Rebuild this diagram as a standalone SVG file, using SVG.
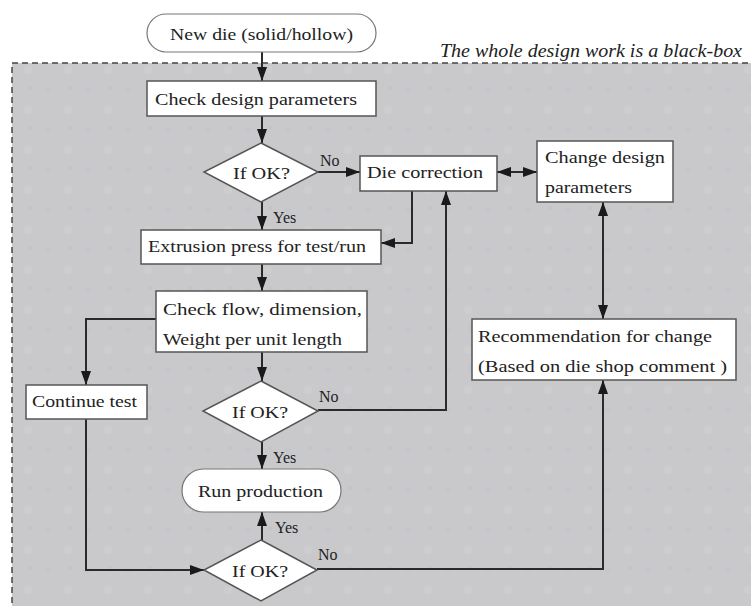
<svg xmlns="http://www.w3.org/2000/svg" width="751" height="606" viewBox="0 0 751 606">
<defs>
<marker id="ah" viewBox="0 0 14 10" refX="14" refY="5" markerWidth="14" markerHeight="10" markerUnits="userSpaceOnUse" orient="auto-start-reverse">
<path d="M0,0 L14,5 L0,10 z" fill="#1a1a1a"/>
</marker>
<pattern id="spk" width="40" height="40" patternUnits="userSpaceOnUse">
<rect width="40" height="40" fill="#c9c9cb"/>
<circle cx="8" cy="10" r="3" fill="#c4c4d0" opacity="0.7"/>
<circle cx="28" cy="30" r="4" fill="#d0d0d4" opacity="0.6"/>
<circle cx="30" cy="8" r="2" fill="#bfbfc8" opacity="0.6"/>
</pattern>
</defs>
<style>
.box{fill:#fff;stroke:#555;stroke-width:1.5}
.oval{fill:#fff;stroke:#777;stroke-width:1.2}
.t{font-family:"Liberation Serif","Times New Roman",serif;font-size:17px;fill:#222}
.lbl{font-family:"Liberation Serif","Times New Roman",serif;font-size:16px;fill:#222}
.c{fill:none;stroke:#2a2a2a;stroke-width:2}
</style>
<rect width="751" height="606" fill="#fff"/>
<g id="blackbox">
<rect x="12" y="63" width="760" height="560" fill="url(#spk)" stroke="#444" stroke-width="1.5" stroke-dasharray="6,4"/>
<text x="440" y="57" font-family="'Liberation Serif','Times New Roman',serif" font-style="italic" font-size="19" fill="#222" textLength="302" lengthAdjust="spacingAndGlyphs">The whole design work is a black-box</text>
</g>
<g id="connectors">
<path class="c" d="M262,52 V81" marker-end="url(#ah)"/>
<path class="c" d="M262,116 V143" marker-end="url(#ah)"/>
<path class="c" d="M318,172 H360" marker-end="url(#ah)"/>
<path class="c" d="M262,202 V230" marker-end="url(#ah)"/>
<path class="c" d="M412,191 V243 H381" marker-end="url(#ah)"/>
<path class="c" d="M497,172 H537" marker-start="url(#ah)" marker-end="url(#ah)"/>
<path class="c" d="M262,264 V291" marker-end="url(#ah)"/>
<path class="c" d="M156,319 H86 V385" marker-end="url(#ah)"/>
<path class="c" d="M262,352 V381" marker-end="url(#ah)"/>
<path class="c" d="M318,410 H446 V191" marker-end="url(#ah)"/>
<path class="c" d="M603,202 V319" marker-start="url(#ah)" marker-end="url(#ah)"/>
<path class="c" d="M262,442 V469" marker-end="url(#ah)"/>
<path class="c" d="M86,419 V570 H204" marker-end="url(#ah)"/>
<path class="c" d="M262,540 V512" marker-end="url(#ah)"/>
<path class="c" d="M317,569 H603 V380" marker-end="url(#ah)"/>
<text class="lbl" x="320" y="166">No</text>
<text class="lbl" x="273" y="223">Yes</text>
<text class="lbl" x="319" y="402">No</text>
<text class="lbl" x="273" y="463">Yes</text>
<text class="lbl" x="275" y="533">Yes</text>
<text class="lbl" x="318" y="560">No</text>
</g>
<g id="start">
<rect class="oval" x="147" y="14" width="229" height="38" rx="19"/>
<text class="t" x="170" y="40" textLength="183" lengthAdjust="spacingAndGlyphs">New die (solid/hollow)</text>
</g>
<g id="check-design">
<rect class="box" x="147" y="81" width="229" height="35"/>
<text class="t" x="155" y="105" textLength="202" lengthAdjust="spacingAndGlyphs">Check design parameters</text>
</g>
<g id="ok1">
<polygon class="box" points="261,143 318,172 261,202 204,172"/>
<text class="t" x="233" y="179" textLength="57" lengthAdjust="spacingAndGlyphs">If OK?</text>
</g>
<g id="die-correction">
<rect class="box" x="360" y="156" width="137" height="35"/>
<text class="t" x="367" y="178" textLength="116" lengthAdjust="spacingAndGlyphs">Die correction</text>
</g>
<g id="change-design">
<rect class="box" x="537" y="141" width="136" height="61"/>
<text class="t" x="545" y="163" textLength="120" lengthAdjust="spacingAndGlyphs">Change design</text>
<text class="t" x="545" y="193" textLength="87" lengthAdjust="spacingAndGlyphs">parameters</text>
</g>
<g id="extrusion">
<rect class="box" x="141" y="230" width="240" height="34"/>
<text class="t" x="148" y="252" textLength="218" lengthAdjust="spacingAndGlyphs">Extrusion press for test/run</text>
</g>
<g id="check-flow">
<rect class="box" x="156" y="291" width="211" height="61"/>
<text class="t" x="163" y="315" textLength="199" lengthAdjust="spacingAndGlyphs">Check flow, dimension,</text>
<text class="t" x="163" y="345" textLength="179" lengthAdjust="spacingAndGlyphs">Weight per unit length</text>
</g>
<g id="continue-test">
<rect class="box" x="26" y="385" width="121" height="34"/>
<text class="t" x="32" y="407" textLength="105" lengthAdjust="spacingAndGlyphs">Continue test</text>
</g>
<g id="ok2">
<polygon class="box" points="261,381 318,411 261,442 203,411"/>
<text class="t" x="232" y="418" textLength="56" lengthAdjust="spacingAndGlyphs">If OK?</text>
</g>
<g id="recommendation">
<rect class="box" x="472" y="319" width="264" height="61"/>
<text class="t" x="478" y="342" textLength="234" lengthAdjust="spacingAndGlyphs">Recommendation for change</text>
<text class="t" x="478" y="372" textLength="249" lengthAdjust="spacingAndGlyphs">(Based on die shop comment )</text>
</g>
<g id="run-production">
<rect class="oval" x="182" y="469" width="159" height="43" rx="21.5" stroke="#555"/>
<text class="t" x="198" y="497" textLength="125" lengthAdjust="spacingAndGlyphs">Run production</text>
</g>
<g id="ok3">
<polygon class="box" points="261,540 317,570 261,601 204,570"/>
<text class="t" x="232" y="577" textLength="56" lengthAdjust="spacingAndGlyphs">If OK?</text>
</g>
</svg>
